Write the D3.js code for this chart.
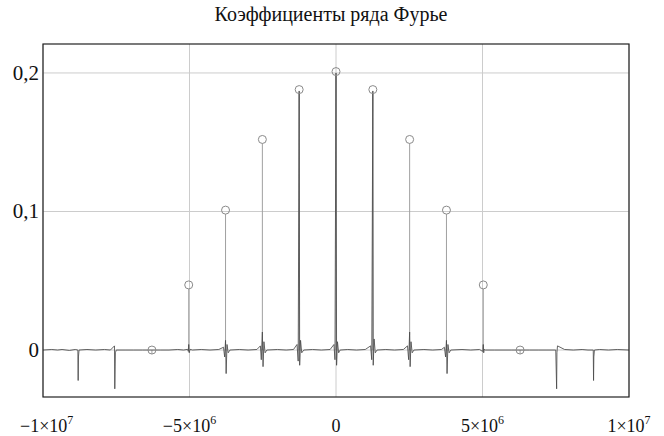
<!DOCTYPE html>
<html>
<head>
<meta charset="utf-8">
<script src="https://cdn.jsdelivr.net/npm/d3@7"></script>
<style>
  body { margin: 0; background: #fff; }
</style>
</head>
<body>
<svg id="chart" width="664" height="436"></svg>
<script>
// ---- data ----
const title = "Коэффициенты ряда Фурье";
// harmonic frequencies (units of 1e6) and Fourier coefficient values
const harmonicX = [-6.283, -5.027, -3.770, -2.513, -1.257, 0, 1.257, 2.513, 3.770, 5.027, 6.283];
const coefValues = [0, 0.047, 0.101, 0.152, 0.188, 0.201, 0.188, 0.152, 0.101, 0.047, 0];
// computed spectrum trace (x in units of 1e6)
const traceX = [
  -10.0, -9.7, -9.5, -9.35, -9.1, -8.9,
  -8.81, -8.80, -8.79, -8.77,
  -8.5, -8.2, -7.9, -7.7,
  -7.56, -7.55, -7.53, -7.50,
  -7.2, -6.9, -6.6, -6.283, -6.0, -5.7, -5.4, -5.2,
  -5.06, -5.04, -5.027, -5.01, -4.98, -4.9,
  -4.6, -4.3, -4.0,
  -3.84, -3.80, -3.77, -3.75, -3.72, -3.68, -3.62,
  -3.3, -3.0, -2.7,
  -2.58, -2.55, -2.513, -2.49, -2.46, -2.42, -2.36,
  -2.0, -1.7, -1.45,
  -1.33, -1.29, -1.257, -1.24, -1.21, -1.17, -1.1,
  -0.8, -0.5, -0.2,
  -0.07, -0.035, 0, 0.02, 0.05, 0.09, 0.14,
  0.4, 0.7, 1.0,
  1.18, 1.22, 1.257, 1.27, 1.30, 1.34, 1.40,
  1.7, 2.0, 2.3,
  2.44, 2.48, 2.513, 2.53, 2.56, 2.60, 2.66,
  3.0, 3.3, 3.6,
  3.70, 3.74, 3.77, 3.79, 3.82, 3.86, 3.92,
  4.3, 4.6, 4.9,
  5.00, 5.015, 5.027, 5.04, 5.06, 5.1,
  5.4, 5.7, 6.0, 6.283, 6.6, 6.9, 7.2,
  7.50, 7.53, 7.54, 7.56,
  7.8, 8.1, 8.4, 8.6,
  8.78, 8.79, 8.80, 8.82,
  9.0, 9.3, 9.6, 10.0
];
const traceY = [
  0.000, 0.0004, 0.000, 0.0004, -0.0003, 0.0004,
  0.000, -0.022, -0.005, 0.000,
  0.0004, 0.000, 0.0004, 0.000,
  0.003, -0.028, -0.002, 0.000,
  0.000, 0.000, 0.000, 0.000, 0.000, 0.000, 0.0004, 0.000,
  0.0005, -0.001, 0.004, -0.002, 0.0005, 0.000,
  0.0004, 0.000, 0.0004,
  0.002, -0.005, 0.007, -0.017, 0.004, -0.002, 0.000,
  0.0004, 0.000, 0.0004,
  0.003, -0.007, 0.013, -0.012, 0.006, -0.002, 0.000,
  0.0004, 0.000, 0.0004,
  0.004, -0.008, 0.187, -0.011, 0.007, -0.002, 0.000,
  0.0004, 0.000, 0.0004,
  0.004, -0.007, 0.200, -0.011, 0.006, -0.002, 0.000,
  0.0004, 0.000, 0.0004,
  0.003, -0.007, 0.187, -0.011, 0.008, -0.002, 0.000,
  0.0004, 0.000, 0.0004,
  0.003, -0.007, 0.013, -0.012, 0.006, -0.002, 0.000,
  0.0004, 0.000, 0.0004,
  0.002, -0.005, 0.007, -0.017, 0.004, -0.002, 0.000,
  0.0004, 0.000, 0.0004,
  -0.001, 0.0005, 0.004, -0.002, 0.0005, 0.000,
  0.000, 0.000, 0.000, 0.000, 0.000, 0.000, 0.000,
  0.000, -0.028, -0.002, 0.003,
  0.0004, 0.000, 0.0004, 0.000,
  0.000, -0.022, -0.005, 0.000,
  0.0004, 0.000, 0.0004, 0.000
];
const xTicks = [-1e7, -5e6, 0, 5e6, 1e7];
const xTickLabels = [["−1×10", "7"], ["−5×10", "6"], ["0", ""], ["5×10", "6"], ["1×10", "7"]];
const yTicks = [0, 0.1, 0.2];
const yTickLabels = ["0", "0,1", "0,2"];

// ---- layout ----
const FONT = "Liberation Serif";
const W = 664, H = 436;
const margin = { left: 43, right: 35, top: 44, bottom: 39 };
const svg = d3.select("#chart");
const x = d3.scaleLinear().domain([-1e7, 1e7]).range([margin.left, W - margin.right]);
const y = d3.scaleLinear().domain([-0.0339, 0.2209]).range([H - margin.bottom, margin.top]);

// title
svg.append("text").attr("x", 331).attr("y", 21).attr("text-anchor", "middle")
  .attr("font-family", FONT).attr("font-size", 20).attr("fill", "#111").text(title);

// gridlines
const grid = svg.append("g");
grid.selectAll("line.v").data(xTicks).join("line")
  .attr("x1", d => x(d)).attr("x2", d => x(d))
  .attr("y1", y.range()[1]).attr("y2", y.range()[0])
  .attr("stroke", "#cccccc").attr("stroke-width", 1);
grid.selectAll("line.h").data(yTicks).join("line")
  .attr("x1", x.range()[0]).attr("x2", x.range()[1])
  .attr("y1", d => y(d)).attr("y2", d => y(d))
  .attr("stroke", "#cccccc").attr("stroke-width", 1);

// stems
const stems = harmonicX.map((h, i) => ({ f: h * 1e6, v: coefValues[i] }));
svg.append("g").selectAll("line").data(stems).join("line")
  .attr("x1", d => x(d.f)).attr("x2", d => x(d.f))
  .attr("y1", y(0)).attr("y2", d => y(d.v) + 4)
  .attr("stroke", "#a0a0a0").attr("stroke-width", 1);

// trace
const trace = traceX.map((t, i) => [t * 1e6, traceY[i]]);
svg.append("path").datum(trace)
  .attr("d", d3.line().x(d => x(d[0])).y(d => y(d[1])))
  .attr("fill", "none").attr("stroke", "#4a4a4a").attr("stroke-width", 0.85)
  .attr("stroke-linejoin", "bevel");

// circles
svg.append("g").selectAll("circle").data(stems).join("circle")
  .attr("cx", d => x(d.f)).attr("cy", d => y(d.v)).attr("r", 4)
  .attr("fill", "none").attr("stroke", "#8a8a8a").attr("stroke-width", 1);

// frame
svg.append("rect").attr("x", margin.left).attr("y", margin.top)
  .attr("width", W - margin.left - margin.right).attr("height", H - margin.top - margin.bottom)
  .attr("fill", "none").attr("stroke", "#222").attr("stroke-width", 1.2);

// y tick labels
svg.append("g").selectAll("text").data(yTicks).join("text")
  .attr("x", 39).attr("y", d => y(d) + 7).attr("text-anchor", "end")
  .attr("font-family", FONT).attr("font-size", 21).attr("fill", "#111")
  .text((d, i) => yTickLabels[i]);

// x tick labels (centred on ticks, kept inside the visible area)
const xl = svg.append("g").selectAll("text").data(xTicks).join("text")
  .attr("x", d => x(d)).attr("y", 432).attr("text-anchor", "middle")
  .attr("font-family", FONT).attr("font-size", 18).attr("fill", "#111");
xl.append("tspan").text((d, i) => xTickLabels[i][0]);
xl.append("tspan").attr("font-size", 12).attr("dy", -8).text((d, i) => xTickLabels[i][1]);
xl.each(function(d) {
  const bb = this.getBBox();
  let shift = 0;
  if (bb.x < 20) shift = 20 - bb.x;
  if (bb.x + bb.width > 658) shift = 658 - (bb.x + bb.width);
  d3.select(this).attr("x", x(d) + shift);
});
</script>
</body>
</html>
